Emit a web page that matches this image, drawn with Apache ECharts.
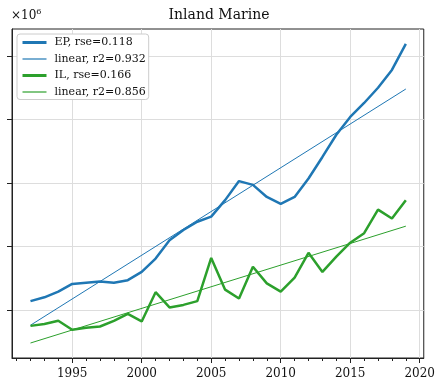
<!DOCTYPE html>
<html>
<head>
<meta charset="utf-8">
<script src="https://cdn.jsdelivr.net/npm/echarts@6/dist/echarts.min.js"></script>
<style>
  html, body { margin: 0; padding: 0; background: #fff; }
  #chart { width: 438px; height: 382px; }
</style>
</head>
<body>
<div id="chart"></div>
<script>
// values in units of 10^6
const years = [1992, 1993, 1994, 1995, 1996, 1997, 1998, 1999, 2000, 2001, 2002, 2003, 2004, 2005,
  2006, 2007, 2008, 2009, 2010, 2011, 2012, 2013, 2014, 2015, 2016, 2017, 2018, 2019];
const epValues = [1.14, 1.20, 1.29, 1.41, 1.43, 1.45, 1.43, 1.47, 1.60, 1.81, 2.10, 2.26, 2.39, 2.47,
  2.73, 3.03, 2.97, 2.78, 2.67, 2.78, 3.07, 3.41, 3.76, 4.04, 4.26, 4.50, 4.78, 5.19];
const ilValues = [0.75, 0.78, 0.83, 0.69, 0.72, 0.74, 0.83, 0.94, 0.82, 1.28, 1.04, 1.08, 1.14, 1.82,
  1.32, 1.18, 1.68, 1.42, 1.29, 1.51, 1.90, 1.60, 1.84, 2.06, 2.21, 2.58, 2.44, 2.73];
// fitted lines: value at first and last year
const fitYears = [1992, 2019];
const epFit = [0.76, 4.48];
const ilFit = [0.48, 2.32];

const majorYears = [1995, 2000, 2005, 2010, 2015, 2020];
const minorYears = [1991, 1992, 1993, 1994, 1995, 1996, 1997, 1998, 1999, 2000, 2001, 2002, 2003,
  2004, 2005, 2006, 2007, 2008, 2009, 2010, 2011, 2012, 2013, 2014, 2015, 2016, 2017, 2018, 2019, 2020];
const yTicks = [1, 2, 3, 4, 5];

const serif = 'DejaVu Serif';
const blue = '#1f77b4';
const green = '#2ca02c';

const pairs = (xs, ys) => xs.map((x, i) => [x, ys[i]]);

const chart = echarts.init(document.getElementById('chart'));
chart.setOption({
  animation: false,
  backgroundColor: '#fff',
  title: {
    text: 'Inland Marine',
    left: 'center',
    top: 3,
    textStyle: { fontFamily: serif, fontWeight: 'normal', fontSize: 14, color: '#111' }
  },
  graphic: [{
    type: 'text',
    left: 11,
    top: 8,
    style: {
      text: '×10{s|6}',
      fontFamily: serif,
      fontSize: 12,
      fill: '#111',
      rich: { s: { fontFamily: serif, fontSize: 8, verticalAlign: 'top', padding: [0, 0, 8, 0] } }
    }
  }],
  legend: {
    orient: 'vertical',
    left: 17,
    top: 34,
    padding: [3, 3, 2, 4],
    itemWidth: 24,
    itemHeight: 12,
    itemGap: 5.5,
    backgroundColor: '#fff',
    borderColor: '#ccc',
    borderWidth: 1,
    borderRadius: 3,
    itemStyle: { opacity: 0 },
    textStyle: { fontFamily: serif, fontSize: 11, color: '#111', padding: [0, 0, 0, 3] },
    data: [
      { name: 'EP, rse=0.118', lineStyle: { width: 3 } },
      { name: 'linear, r2=0.932', lineStyle: { width: 1.2 } },
      { name: 'IL, rse=0.166', lineStyle: { width: 3 } },
      { name: 'linear, r2=0.856', lineStyle: { width: 1.2 } }
    ]
  },
  grid: {
    left: 12, right: 11, top: 29, bottom: 24,
    show: true, borderColor: '#222', borderWidth: 1
  },
  xAxis: [{
    type: 'value',
    min: 1990.67,
    max: 2020.29,
    axisLine: { show: true, onZero: false, lineStyle: { color: '#222' } },
    axisTick: { show: true, customValues: majorYears, length: 5, lineStyle: { color: '#222' } },
    axisLabel: { customValues: majorYears, margin: 10, fontFamily: serif, fontSize: 12, color: '#111',
      formatter: v => String(v) },
    splitLine: { show: true, lineStyle: { color: '#ddd', width: 1 } }
  }, {
    type: 'value',
    min: 1990.67,
    max: 2020.29,
    position: 'bottom',
    axisLine: { show: false },
    axisTick: { show: true, customValues: minorYears, length: 3, lineStyle: { color: '#222' } },
    axisLabel: { show: false },
    splitLine: { show: false }
  }],
  yAxis: {
    type: 'value',
    min: 0.244,
    max: 5.425,
    axisLine: { show: true, onZero: false, lineStyle: { color: '#222' } },
    axisTick: { show: true, customValues: yTicks, length: 5, lineStyle: { color: '#222' } },
    axisLabel: { show: false, customValues: yTicks },
    splitLine: { show: true, lineStyle: { color: '#ddd', width: 1 } }
  },
  series: [{
    name: 'EP, rse=0.118',
    type: 'line',
    data: pairs(years, epValues),
    symbol: 'none',
    color: blue,
    lineStyle: { width: 2.5, color: blue },
    z: 3
  }, {
    name: 'linear, r2=0.932',
    type: 'line',
    data: pairs(fitYears, epFit),
    symbol: 'none',
    color: blue,
    lineStyle: { width: 1, color: blue },
    z: 2
  }, {
    name: 'IL, rse=0.166',
    type: 'line',
    data: pairs(years, ilValues),
    symbol: 'none',
    color: green,
    lineStyle: { width: 2.5, color: green },
    z: 3
  }, {
    name: 'linear, r2=0.856',
    type: 'line',
    data: pairs(fitYears, ilFit),
    symbol: 'none',
    color: green,
    lineStyle: { width: 1, color: green },
    z: 2
  }]
});
</script>
</body>
</html>
